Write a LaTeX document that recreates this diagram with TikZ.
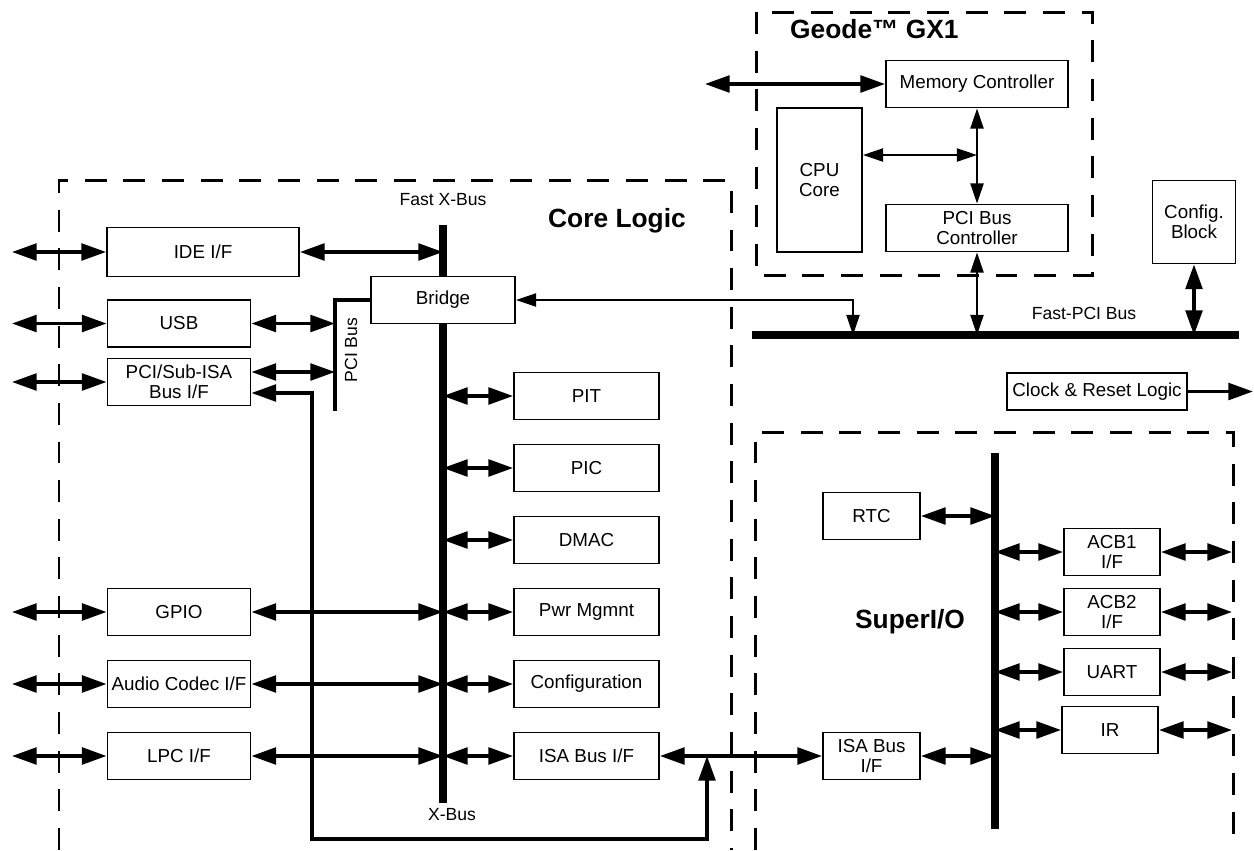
\documentclass[tikz,border=0pt]{standalone}
\usepackage{fontspec}
\setmainfont{Liberation Sans}
\usetikzlibrary{positioning, arrows.meta, calc}

\begin{document}
\begin{tikzpicture}[
  x=0.02cm, y=-0.02cm,
  block/.style={draw, line width=1.1pt, fill=white, inner sep=1pt, align=center,
    font=\fontsize{10.7}{11.5}\selectfont, minimum height=0.94cm},
  heading/.style={font=\fontsize{15}{17}\selectfont\bfseries},
  buslbl/.style={font=\fontsize{10}{12}\selectfont},
  bus/.style={line width=4pt},
  pcibus/.style={line width=2.8pt},
  frame/.style={line width=1.7pt, dash pattern=on 12.5pt off 9.5pt},
  dbl/.style={{Triangle[length=14pt, width=9.5pt]}-{Triangle[length=14pt, width=9.5pt]}, line width=1.9pt},
  sgl/.style={-{Triangle[length=14pt, width=9.5pt]}, line width=1.9pt},
  lite/.style={{Triangle[length=11.5pt, width=7.5pt]}-{Triangle[length=11.5pt, width=7.5pt]}, line width=1pt},
]
\useasboundingbox (0,0) rectangle (1254,850);

% === Frames ===
\draw[frame] (59,850) -- (59,180) -- (731,180) -- (731,850);
\draw[frame] (756,12) rectangle (1092,275);
\draw[frame] (755,850) -- (755,432) -- (1233,432) -- (1233,850);

% === Bus lines ===
\coordinate (xbusT) at (443,225);
\coordinate (xbusB) at (443,803);
\coordinate (pcibusB) at (335,411);
\coordinate (fpciL) at (752,335);
\coordinate (fpciR) at (1239,335);
\coordinate (fpciA) at (853,335);
\coordinate (sioT) at (995,453);
\coordinate (sioB) at (995,829);
\coordinate (ext) at (12,0);
\coordinate (memext) at (705,0);
\coordinate (clkext) at (1253,0);
\coordinate (sioR) at (1232,0);
\coordinate (isajn) at (707,756);
\coordinate (loop) at (312,839);

\draw[bus] (xbusT) -- (xbusB);
\draw[bus] (fpciL) -- (fpciR);
\draw[bus] (sioT) -- (sioB);

% === Geode GX1 ===
\node[heading, anchor=west] (gxtitle) at (784,29) {Geode™ GX1};
\node[block, minimum width=3.64cm] (mc) at (977,84) {Memory Controller};
\node[block, minimum width=1.7cm, minimum height=2.88cm] (cpu) at (819.5,180)
  {CPU\\Core};
\node[block, minimum width=3.64cm] (pcibc) at (977,228) {PCI Bus\\Controller};
\node[block, minimum width=1.66cm, minimum height=1.66cm] (cfg) at (1194,222)
  {Config.\\Block};
\node[buslbl] (fpcilbl) at (1084,313) {Fast-PCI Bus};

\draw[dbl] (mc.west -| memext) -- (mc.west);
\draw[lite] (mc.south) -- (pcibc.north);
\draw[lite] ([yshift=0.5cm]cpu.east) -- ([yshift=0.5cm]cpu.east -| mc.south);
\draw[lite] (pcibc.south) -- (pcibc.south |- fpciL);
\draw[dbl] (cfg.south) -- (cfg.south |- fpciL);

% === Core Logic ===
\node[heading] (cltitle) at (617,221) {Core Logic};
\node[buslbl] (fxlbl) at (443,200) {Fast X-Bus};
\node[buslbl] (xlbl) at (452,815) {X-Bus};

\node[block, minimum width=2.88cm] (bridge) at (443,300) {Bridge};
\draw[pcibus] (bridge.west) -| (pcibusB);
\node[buslbl, rotate=90] (pcilbl) at (351,350) {PCI Bus};

\node[block, minimum width=3.84cm, minimum height=0.98cm] (ide) at (203,252) {IDE I/F};
\node[block, minimum width=2.86cm] (usb) at (179,323.5) {USB};
\node[block, minimum width=2.86cm] (pcisub) at (179,382) {PCI/Sub-ISA\\Bus I/F};
\node[block, minimum width=2.86cm] (gpio) at (179,612) {GPIO};
\node[block, minimum width=2.86cm] (audio) at (179,684) {Audio Codec I/F};
\node[block, minimum width=2.86cm] (lpc) at (179,756) {LPC I/F};

\node[block, minimum width=2.9cm] (pit) at (586.5,396) {PIT};
\node[block, minimum width=2.9cm] (pic) at (586.5,468) {PIC};
\node[block, minimum width=2.9cm] (dmac) at (586.5,540) {DMAC};
\node[block, minimum width=2.9cm] (pwr) at (586.5,612) {Pwr Mgmnt};
\node[block, minimum width=2.9cm] (conf) at (586.5,684) {Configuration};
\node[block, minimum width=2.9cm] (isa) at (586.5,756) {ISA Bus I/F};

\draw[dbl] (ext |- ide.west) -- (ide.west);
\draw[dbl] (ext |- usb.west) -- (usb.west);
\draw[dbl] (ext |- pcisub.west) -- (pcisub.west);
\draw[dbl] (ext |- gpio.west) -- (gpio.west);
\draw[dbl] (ext |- audio.west) -- (audio.west);
\draw[dbl] (ext |- lpc.west) -- (lpc.west);

\draw[dbl] (ide.east) -- (ide.east -| xbusT);
\draw[dbl] (usb.east) -- (usb.east -| pcibusB);
\draw[dbl] ([yshift=0.2cm]pcisub.east) -- ([yshift=0.2cm]pcisub.east -| pcibusB);
\draw[dbl] ([yshift=-0.22cm]pcisub.east) -| (loop) -| (isajn);
\draw[dbl] (gpio.east) -- (gpio.east -| xbusT);
\draw[dbl] (audio.east) -- (audio.east -| xbusT);
\draw[dbl] (lpc.east) -- (lpc.east -| xbusT);

\draw[dbl] (pit.west -| xbusT) -- (pit.west);
\draw[dbl] (pic.west -| xbusT) -- (pic.west);
\draw[dbl] (dmac.west -| xbusT) -- (dmac.west);
\draw[dbl] (pwr.west -| xbusT) -- (pwr.west);
\draw[dbl] (conf.west -| xbusT) -- (conf.west);
\draw[dbl] (isa.west -| xbusT) -- (isa.west);

\draw[lite] (bridge.east) -| (fpciA);

% === Clock ===
\node[block, minimum width=3.6cm, minimum height=0.74cm] (clk) at (1097,391.5)
  {Clock \& Reset Logic};
\draw[sgl] (clk.east) -- (clk.east -| clkext);

% === SuperI/O ===
\node[heading] (siotitle) at (910,622) {SuperI/O};
\node[block, minimum width=1.94cm] (rtc) at (871.5,516) {RTC};
\node[block, minimum width=1.94cm] (sisa) at (871.5,756) {ISA Bus\\I/F};
\node[block, minimum width=1.92cm] (acb1) at (1112,552) {ACB1\\I/F};
\node[block, minimum width=1.92cm] (acb2) at (1112,612) {ACB2\\I/F};
\node[block, minimum width=1.92cm] (uart) at (1112,672) {UART};
\node[block, minimum width=1.92cm] (ir) at (1110,730) {IR};

\draw[dbl] (isa.east) -- (sisa.west);
\draw[dbl] (rtc.east) -- (rtc.east -| sioT);
\draw[dbl] (sisa.east) -- (sisa.east -| sioT);
\draw[dbl] (acb1.west -| sioT) -- (acb1.west);
\draw[dbl] (acb2.west -| sioT) -- (acb2.west);
\draw[dbl] (uart.west -| sioT) -- (uart.west);
\draw[dbl] (ir.west -| sioT) -- (ir.west);
\draw[dbl] (acb1.east) -- (acb1.east -| sioR);
\draw[dbl] (acb2.east) -- (acb2.east -| sioR);
\draw[dbl] (uart.east) -- (uart.east -| sioR);
\draw[dbl] (ir.east) -- (ir.east -| sioR);

\end{tikzpicture}
\end{document}
